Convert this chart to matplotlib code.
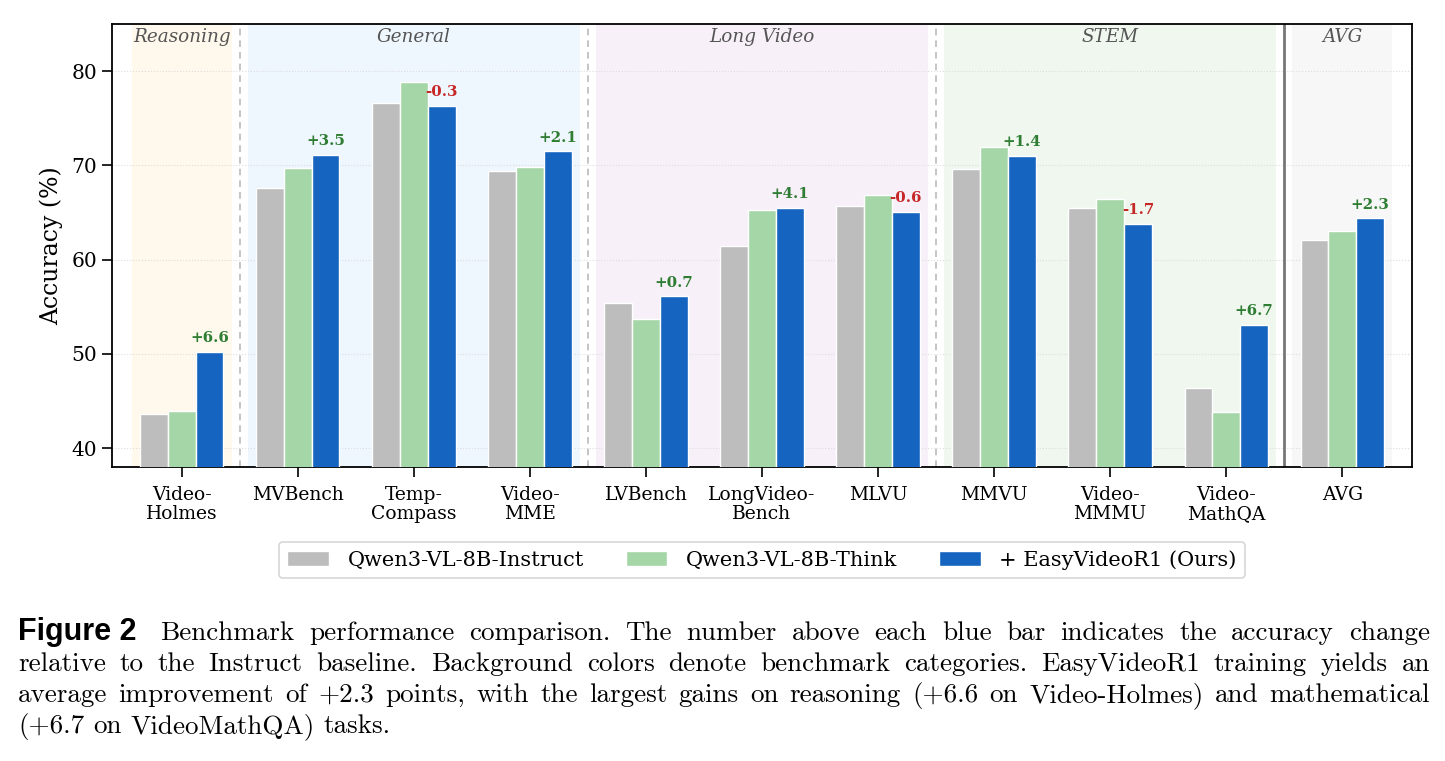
import matplotlib
matplotlib.use("Agg")
import matplotlib.pyplot as plt
import numpy as np

# benchmark names (tick labels) and scores
benchmarks = ["Video-\nHolmes", "MVBench", "Temp-\nCompass", "Video-\nMME", "LVBench",
              "LongVideo-\nBench", "MLVU", "MMVU", "Video-\nMMMU", "Video-\nMathQA", "AVG"]
instruct = [43.6, 67.6, 76.6, 69.4, 55.4, 61.4, 65.7, 69.6, 65.5, 46.4, 62.1]
think = [43.9, 69.7, 78.8, 69.8, 53.7, 65.3, 66.9, 71.9, 66.4, 43.8, 63.0]
ours = [50.2, 71.1, 76.3, 71.5, 56.1, 65.5, 65.1, 71.0, 63.8, 53.1, 64.4]
series_names = ["Qwen3-VL-8B-Instruct", "Qwen3-VL-8B-Think", "+ EasyVideoR1 (Ours)"]

# categories: (name, first index, last index, background)
categories = [("Reasoning", 0, 0, "#fff8ec"), ("General", 1, 3, "#eef6fe"),
              ("Long Video", 4, 6, "#f7f0f9"), ("STEM", 7, 9, "#eff7ef"),
              ("AVG", 10, 10, "#f7f7f7")]

caption_lines = [
    "Benchmark performance comparison.  The number above each blue bar indicates the accuracy change",
    "relative to the Instruct baseline. Background colors denote benchmark categories. EasyVideoR1 training yields an",
    "average improvement of +2.3 points, with the largest gains on reasoning (+6.6 on Video-Holmes) and mathematical",
    "(+6.7 on VideoMathQA) tasks.",
]

W, H = 1445, 761
fig = plt.figure(figsize=(W / 100, H / 100), dpi=100)
ax = fig.add_axes([112 / W, 1 - 467 / H, 1300 / W, 443 / H])
plt.rcParams['font.family'] = 'DejaVu Serif'

x = np.arange(len(benchmarks))
bw = 0.24
colors = ["#bdbdbd", "#a5d6a7", "#1565c0"]
for k, vals in enumerate([instruct, think, ours]):
    ax.bar(x + (k - 1) * bw, vals, bw, color=colors[k], edgecolor="white",
           linewidth=1, label=series_names[k], zorder=3)

# background category bands + labels
for name, a, b, col in categories:
    ax.axvspan(a - 0.43, b + 0.43, color=col, zorder=0, lw=0)
    ax.text((a + b) / 2, 83.6, name, ha="center", va="center", style="italic",
            fontsize=13.2, color="#555555", family="DejaVu Serif", zorder=4)

for sep in [0.5, 3.5, 6.5]:
    ax.axvline(sep, color="#bbbbbb", ls=(0, (4, 3)), lw=1.2, zorder=1)
ax.axvline(9.5, color="#777777", lw=2, zorder=1)

# gain labels
for i in range(len(benchmarks)):
    d = ours[i] - instruct[i]
    c = "#2e7d32" if d >= 0 else "#c62828"
    ax.text(x[i] + bw, ours[i] + 0.7, f"{d:+.1f}", ha="center", va="bottom",
            fontsize=10.8, fontweight="bold", color=c, family="DejaVu Serif", zorder=5)

ax.set_xlim(-0.6, 10.6)
ax.set_ylim(38, 85)
ax.set_yticks([40, 50, 60, 70, 80])
ax.set_xticks(x)
ax.set_xticklabels(benchmarks, fontsize=13.5, family="DejaVu Serif", linespacing=1.05)
ax.tick_params(axis="y", labelsize=14.5, length=7, width=1.2)
ax.tick_params(axis="x", length=7, width=1.2, pad=7)
for t in ax.get_yticklabels():
    t.set_family("DejaVu Serif")
ax.set_ylabel("Accuracy (%)", fontsize=17, family="DejaVu Serif", labelpad=6)
ax.grid(axis="y", ls=":", color="#dddddd", lw=0.8, zorder=0)
ax.set_axisbelow(True)
for s in ax.spines.values():
    s.set_linewidth(1.3)
    s.set_color("black")

leg = ax.legend(loc="upper center", bbox_to_anchor=(0.5, -0.145), ncol=3,
                prop={"family": "DejaVu Serif", "size": 15}, frameon=True,
                handlelength=2.0, handleheight=0.7, handletextpad=0.9,
                columnspacing=2.0, borderpad=0.4, fancybox=True)
leg.get_frame().set_edgecolor("#cccccc")
leg.get_frame().set_linewidth(1.2)

# caption, justified by hand
cap_fs = 19.5
fig.text(18 / W, 1 - 640 / H, "Figure 2", family="Liberation Sans", fontweight="bold",
         fontsize=22, va="baseline")
fig.canvas.draw()
rend = fig.canvas.get_renderer()
x_left = [160, 18, 18, 18]
baselines = [640, 671, 702, 733]
x_right = 1430
for li, line in enumerate(caption_lines):
    words = line.split()
    ts = [fig.text(0, 1 - baselines[li] / H, w, family="cmr10", fontsize=cap_fs,
                   va="baseline") for w in words]
    widths = [t.get_window_extent(rend).width for t in ts]
    if li < len(caption_lines) - 1 and len(words) > 1:
        gap = (x_right - x_left[li] - sum(widths)) / (len(words) - 1)
    else:
        gap = cap_fs * 0.45
    pos = x_left[li]
    for t, w in zip(ts, widths):
        t.set_x(pos / W)
        pos += w + gap

fig.savefig("out.png", dpi=100)
